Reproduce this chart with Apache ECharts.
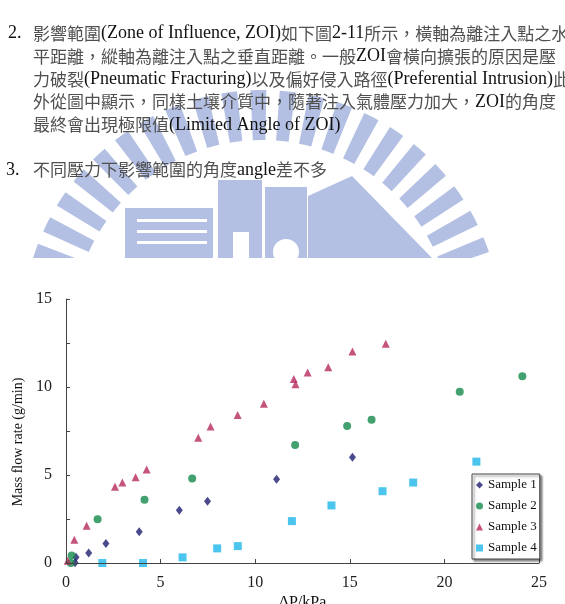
<!DOCTYPE html>
<html>
<head>
<meta charset="utf-8">
<script src="https://cdn.jsdelivr.net/npm/echarts@6/dist/echarts.min.js"></script>
<style>
  html, body { margin: 0; padding: 0; background: #fff; }
  #chart { width: 565px; height: 604px; }
</style>
</head>
<body>
<div id="chart"></div>
<script>
// figure 2-11: dP (kPa) vs mass flow rate (g/min)
const sample1 = [[0.48, 0.02], [0.53, 0.32], [1.2, 0.57], [2.11, 1.11], [3.87, 1.78], [5.99, 3.0], [7.48, 3.51], [11.13, 4.76], [15.14, 6.01]];
const sample2 = [[0.25, 0.0], [0.3, 0.42], [1.67, 2.49], [4.15, 3.59], [6.67, 4.8], [12.11, 6.7], [14.86, 7.78], [16.15, 8.14], [20.81, 9.73], [24.12, 10.61]];
const sample3 = [[0.09, 0.13], [0.44, 1.32], [1.09, 2.12], [2.59, 4.33], [2.98, 4.57], [3.68, 4.87], [4.26, 5.31], [6.99, 7.12], [7.64, 7.75], [9.07, 8.41], [10.46, 9.05], [12.04, 10.46], [12.13, 10.16], [12.77, 10.82], [13.86, 11.12], [15.14, 12.01], [16.9, 12.46]];
const sample4 = [[1.92, 0.0], [4.07, 0.0], [6.16, 0.32], [7.99, 0.83], [9.08, 0.96], [11.94, 2.38], [14.03, 3.27], [16.73, 4.08], [18.35, 4.57], [21.69, 5.76]];

const seriesNames = ['Sample 1', 'Sample 2', 'Sample 3', 'Sample 4'];
const yLabelValues = [0, 5, 10, 15];

// paragraph above the figure
const paraLines = [
  '影響範圍(Zone of Influence, ZOI)如下圖2-11所示，橫軸為離注入點之水',
  '平距離，縱軸為離注入點之垂直距離。一般ZOI會橫向擴張的原因是壓',
  '力破裂(Pneumatic Fracturing)以及偏好侵入路徑(Preferential Intrusion)此',
  '外從圖中顯示，同樣土壤介質中，隨著注入氣體壓力加大，ZOI的角度',
  '最終會出現極限值(Limited Angle of ZOI)'
];
const item3 = '不同壓力下影響範圍的角度angle差不多';

const serif = '"Liberation Serif", "Times New Roman", serif';
const cjk = '"Noto Sans CJK TC", "Noto Sans CJK SC", sans-serif';
const wm = '#b3c0e3';

function richLine(s) {
  return s.replace(/([\u3000-\u303f\u4e00-\u9fff\uff00-\uffef]+)|([^\u3000-\u303f\u4e00-\u9fff\uff00-\uffef]+)/g,
    (m, c, l) => c ? '{c|' + c + '}' : '{l|' + l + '}');
}
const rich = {
  c: { fontFamily: cjk, fontSize: 17, fill: '#505050' },
  l: { fontFamily: serif, fontSize: 18, fill: '#111' }
};

function textEl(x, y, s) {
  return { type: 'text', x: x, y: y, z: 10, style: { text: richLine(s), rich: rich, verticalAlign: 'middle' } };
}

let graphics = [];

// watermark (school logo behind the text)
const cx = 262, cy = 330, r0 = 190, r1 = 240;
const a0 = Math.PI - 0.31, a1 = 2 * Math.PI + 0.31;
const period = 7 * Math.PI / 180, w = 3.8 * Math.PI / 180;
for (let a = a0; a + w <= a1 + 0.001; a += period) {
  graphics.push({ type: 'sector', z: -2, shape: { cx: cx, cy: cy, r0: r0, r: r1, startAngle: a, endAngle: a + w, clockwise: true }, style: { fill: wm } });
}
graphics.push({ type: 'rect', z: -2, shape: { x: 125, y: 208, width: 88, height: 50 }, style: { fill: wm } });
[219, 230, 241].forEach(y => graphics.push({ type: 'rect', z: -1.5, shape: { x: 137, y: y, width: 70, height: 3 }, style: { fill: '#fff' } }));
graphics.push({ type: 'rect', z: -2, shape: { x: 218, y: 180, width: 44, height: 78 }, style: { fill: wm } });
graphics.push({ type: 'rect', z: -1.5, shape: { x: 233, y: 232, width: 16, height: 26 }, style: { fill: '#fff' } });
graphics.push({ type: 'rect', z: -2, shape: { x: 265, y: 187, width: 42, height: 71 }, style: { fill: wm } });
graphics.push({ type: 'circle', z: -1.5, shape: { cx: 286, cy: 252, r: 13 }, style: { fill: '#fff' } });
graphics.push({ type: 'polygon', z: -2, shape: { points: [[308, 196], [352, 176], [432, 258], [308, 258]] }, style: { fill: wm } });
// the figure itself is pasted on white
graphics.push({ type: 'rect', z: -1, shape: { x: 0, y: 258, width: 565, height: 346 }, style: { fill: '#fff' } });

// text
graphics.push({ type: 'text', x: 8, y: 33.5, z: 10, style: { text: '2.', font: '18px ' + serif, fill: '#111', verticalAlign: 'middle' } });
const lineY = [33.5, 56.5, 79.5, 102, 125];
paraLines.forEach((s, i) => graphics.push(textEl(33, lineY[i], s)));
graphics.push({ type: 'text', x: 6, y: 170, z: 10, style: { text: '3.', font: '18px ' + serif, fill: '#111', verticalAlign: 'middle' } });
graphics.push(textEl(33, 170, item3));

const chart = echarts.init(document.getElementById('chart'));
chart.setOption({
  animation: false,
  backgroundColor: '#fff',
  graphic: graphics,
  grid: { left: 66, right: 26, top: 299, bottom: 41, outerBoundsMode: 'none', containLabel: false },
  legend: {
    orient: 'vertical',
    left: 472, top: 474,
    padding: [4, 3, 4, 4],
    itemGap: 7,
    itemWidth: 7, itemHeight: 7,
    itemTextGap: 3,
    backgroundColor: '#fff',
    borderColor: '#444', borderWidth: 1,
    shadowColor: 'rgba(0,0,0,0.45)', shadowBlur: 2, shadowOffsetX: 2, shadowOffsetY: 2,
    textStyle: { fontFamily: serif, fontSize: 13, color: '#111', lineHeight: 14 },
    data: seriesNames
  },
  xAxis: {
    type: 'value', min: 0, max: 25, interval: 5, z: 3,
    name: 'ΔP/kPa', nameLocation: 'middle', nameGap: 32,
    nameTextStyle: { fontFamily: serif, fontSize: 16, color: '#111', verticalAlign: 'top' },
    axisLine: { lineStyle: { color: '#444', width: 1 } },
    axisTick: { inside: true, length: 4, lineStyle: { color: '#444' } },
    axisLabel: { fontFamily: serif, fontSize: 16, color: '#222', margin: 12 },
    splitLine: { show: false }
  },
  yAxis: {
    type: 'value', min: 0, max: 15, interval: 2.5, z: 3,
    name: 'Mass flow rate (g/min)', nameLocation: 'middle', nameGap: 37, nameRotate: 90,
    nameTextStyle: { fontFamily: serif, fontSize: 14, color: '#111', padding: [0, 22, 0, 0] },
    axisLine: { show: true, lineStyle: { color: '#444', width: 1 } },
    axisTick: { show: true, inside: true, length: 4, lineStyle: { color: '#444' } },
    axisLabel: {
      fontFamily: serif, fontSize: 16, color: '#222', margin: 14,
      formatter: v => yLabelValues.indexOf(v) >= 0 ? String(v) : ''
    },
    splitLine: { show: false }
  },
  series: [
    { name: seriesNames[0], type: 'scatter', data: sample1, symbol: 'diamond', symbolSize: [7, 9], itemStyle: { color: '#1d1d70' } },
    { name: seriesNames[1], type: 'scatter', data: sample2, symbol: 'circle', symbolSize: 8, itemStyle: { color: '#14894b' } },
    { name: seriesNames[2], type: 'scatter', data: sample3, symbol: 'triangle', symbolSize: 8, itemStyle: { color: '#b5285c' } },
    { name: seriesNames[3], type: 'scatter', data: sample4, symbol: 'rect', symbolSize: 8, itemStyle: { color: '#1fb7ea' } }
  ]
});
</script>
</body>
</html>
